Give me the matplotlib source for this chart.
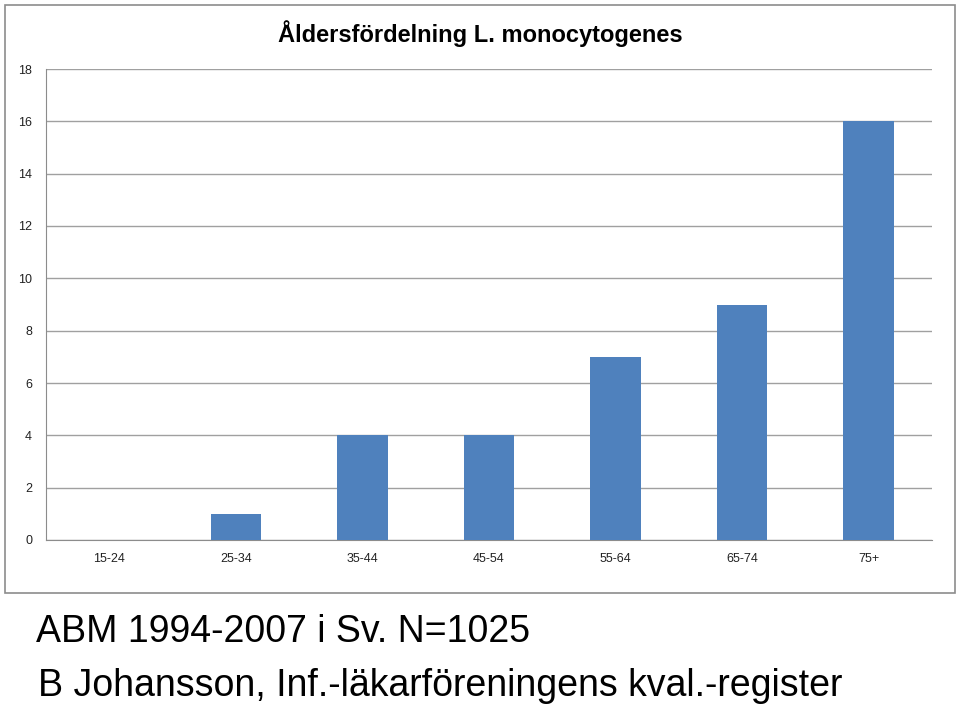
import numpy as np
import matplotlib.pyplot as plt
from matplotlib.patches import Rectangle

plt.rcParams['font.family'] = ['Liberation Sans', 'DejaVu Sans']

age_groups = ['15-24', '25-34', '35-44', '45-54', '55-64', '65-74', '75+']
cases = [0, 1, 4, 4, 7, 9, 16]
y_ticks = [0, 2, 4, 6, 8, 10, 12, 14, 16, 18]

fig = plt.figure(figsize=(9.6, 7.06), dpi=100)

# chart frame (as in the pasted Excel chart)
frame = Rectangle((5 / 960, 1 - 593 / 706), 950 / 960, 588 / 706,
                  transform=fig.transFigure, fill=False, edgecolor='#8c8c8c', lw=1.2)
fig.patches.append(frame)

ax = fig.add_axes([46 / 960, 1 - 540 / 706, 886 / 960, 471 / 706])
x = np.arange(len(age_groups))
ax.bar(x, cases, width=0.4, color='#4F81BD', zorder=3)
ax.set_xlim(-0.5, len(age_groups) - 0.5)
ax.set_ylim(0, 18)
ax.set_yticks(y_ticks)
ax.set_xticks(x)
ax.set_xticklabels(age_groups)
ax.yaxis.grid(True, color='#a0a0a0', lw=1)
ax.tick_params(axis='both', length=0, labelsize=9, colors='#222222')
ax.tick_params(axis='x', pad=9)
ax.tick_params(axis='y', pad=10)
for s in ['top', 'right']:
    ax.spines[s].set_visible(False)
for s in ['left', 'bottom']:
    ax.spines[s].set_color('#8c8c8c')

fig.text(0.5, 1 - 34 / 706, 'Åldersfördelning L. monocytogenes', ha='center', va='center',
         fontsize=17, fontweight='bold')
fig.text(36 / 960, 1 - 632 / 706, 'ABM 1994-2007 i Sv. N=1025', ha='left', va='center',
         fontsize=27)
fig.text(38 / 960, 1 - 686 / 706, 'B Johansson, Inf.-läkarföreningens kval.-register',
         ha='left', va='center', fontsize=27)

fig.savefig('out.png', dpi=100)
